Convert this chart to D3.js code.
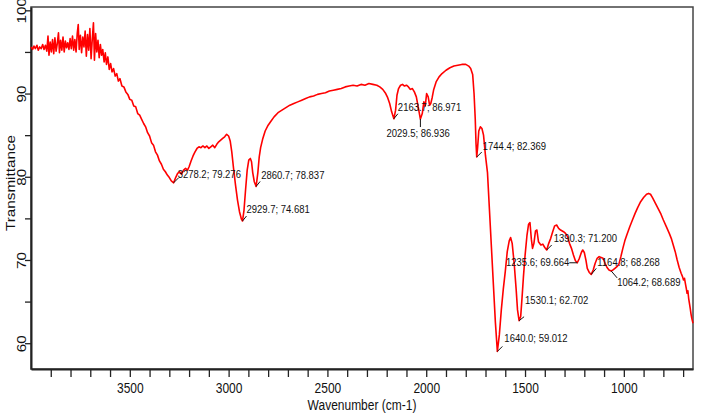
<!DOCTYPE html>
<html>
<head>
<meta charset="utf-8">
<script src="https://cdn.jsdelivr.net/npm/d3@7"></script>
<style>
  body { margin: 0; background: #fff; }
  text { font-family: Arial, "Liberation Sans", sans-serif; }
</style>
</head>
<body>
<div id="ftir-chart"></div>
<script>
// spectrum (cm-1 / %T)
const wavenumber = [
	4000, 3992, 3985, 3978, 3970, 3963, 3956, 3948, 3941, 3934, 3927, 3920, 3914, 3909, 3903, 3897, 3891, 3885, 3879, 3873,
	3867, 3861, 3856, 3850, 3844, 3838, 3832, 3826, 3820, 3814, 3808, 3802, 3796, 3790, 3784, 3778, 3772, 3766, 3761, 3756,
	3750, 3744, 3738, 3732, 3726, 3720, 3714, 3708, 3702, 3696, 3690, 3684, 3679, 3673, 3667, 3661, 3655, 3649, 3643, 3637,
	3630, 3624, 3618, 3611, 3604, 3597, 3590, 3582, 3574, 3566, 3558, 3550, 3540, 3530, 3520, 3510, 3500, 3490, 3480, 3470,
	3460, 3450, 3440, 3430, 3420, 3410, 3400, 3390, 3380, 3370, 3360, 3350, 3340, 3330, 3320, 3310, 3300, 3290, 3278.2, 3268,
	3258, 3248, 3238, 3228, 3218, 3208, 3200, 3190, 3180, 3170, 3160, 3150, 3140, 3130, 3120, 3110, 3100, 3090, 3080, 3070,
	3060, 3050, 3040, 3030, 3020, 3010, 3000, 2992, 2984, 2975, 2965, 2955, 2945, 2935, 2929.7, 2922, 2914, 2906, 2898, 2890,
	2884, 2878, 2870, 2860.7, 2852, 2845, 2838, 2828, 2815, 2800, 2785, 2770, 2750, 2730, 2710, 2690, 2670, 2650, 2630, 2610,
	2590, 2570, 2550, 2530, 2510, 2490, 2470, 2450, 2430, 2410, 2390, 2370, 2350, 2330, 2310, 2290, 2270, 2250, 2235, 2220,
	2205, 2195, 2185, 2175, 2163.7, 2155, 2148, 2140, 2130, 2120, 2110, 2100, 2090, 2080, 2070, 2060, 2050, 2040, 2029.5, 2020,
	2012, 2005, 1998, 1990, 1983, 1977, 1970, 1962, 1950, 1935, 1920, 1900, 1880, 1860, 1840, 1820, 1800, 1785, 1775, 1765,
	1758, 1752, 1748, 1744.4, 1740, 1734, 1726, 1718, 1710, 1700, 1690, 1680, 1670, 1660, 1650, 1640.0, 1630, 1620, 1610, 1600,
	1590, 1580, 1573, 1565, 1555, 1545, 1538, 1530.1, 1522, 1515, 1508, 1500, 1490, 1482, 1475, 1468, 1462, 1455, 1447, 1440,
	1432, 1420, 1410, 1400, 1390.3, 1380, 1370, 1360, 1350, 1340, 1330, 1320, 1305, 1295, 1285, 1275, 1265, 1255, 1245, 1235.6,
	1225, 1215, 1208, 1200, 1192, 1185, 1175, 1164.8, 1155, 1145, 1135, 1125, 1115, 1105, 1095, 1085, 1075, 1064.2, 1055, 1045,
	1035, 1025, 1015, 1005, 995, 985, 970, 955, 943, 930, 915, 900, 885, 875, 865, 855, 840, 825, 812, 800,
	785, 770, 760, 750, 740, 730, 720, 710, 703, 698, 693, 688, 684, 680, 676, 672, 668, 664, 660, 656,
	652, 650
];
const transmittance = [
	95.6, 95.3, 95.7, 95.4, 95.8, 95.2, 95.6, 95.4, 95.9, 95.3, 95.8, 95.1, 96.9, 94.6, 96.2, 95.0, 96.5, 94.8, 96.7, 95.1,
	96.0, 97.3, 94.9, 96.4, 95.2, 96.8, 95.0, 96.3, 95.5, 96.1, 95.3, 96.6, 95.4, 96.9, 95.2, 96.5, 95.0, 97.2, 98.3, 95.3,
	97.0, 94.9, 96.8, 95.6, 97.5, 94.5, 97.1, 95.2, 97.8, 94.2, 96.5, 98.5, 94.0, 97.2, 95.0, 96.4, 94.3, 95.9, 94.6, 95.3,
	93.8, 94.9, 93.5, 94.4, 92.9, 93.6, 92.6, 93.0, 92.1, 92.4, 91.5, 91.8, 90.9, 90.8, 90.2, 89.9, 89.3, 89.2, 88.5, 88.4,
	87.6, 87.4, 86.9, 86.4, 86.0, 85.3, 84.9, 84.1, 83.8, 83.0, 82.6, 81.9, 81.5, 80.9, 80.6, 80.2, 79.9, 79.5, 79.276, 79.9,
	80.4, 80.6, 80.3, 80.8, 81.0, 80.8, 81.2, 81.9, 82.5, 83.0, 83.4, 83.6, 83.5, 83.7, 83.5, 83.7, 83.4, 83.6, 83.8, 83.5,
	83.9, 84.2, 84.4, 84.6, 84.8, 85.1, 84.9, 84.3, 83.0, 81.0, 79.0, 77.2, 75.8, 74.9, 74.681, 76.0, 78.5, 80.8, 82.0, 82.2,
	81.8, 80.5, 79.4, 78.837, 80.5, 82.4, 83.5, 84.5, 85.5, 86.2, 86.7, 87.2, 87.7, 88.0, 88.3, 88.6, 88.8, 89.0, 89.2, 89.4,
	89.6, 89.7, 89.9, 90.0, 90.1, 90.3, 90.4, 90.5, 90.6, 90.8, 90.9, 91.0, 90.9, 91.1, 91.0, 91.2, 91.1, 91.0, 90.8, 90.5,
	90.0, 89.5, 88.8, 87.8, 86.971, 88.0, 89.8, 90.6, 91.0, 91.1, 90.9, 91.0, 90.8, 90.5, 90.6, 90.2, 89.6, 88.3, 86.936, 87.6,
	89.0, 88.5, 90.0, 89.6, 88.6, 88.8, 89.5, 90.5, 91.4, 92.0, 92.4, 92.8, 93.1, 93.3, 93.4, 93.5, 93.5, 93.3, 93.0, 92.3,
	90.0, 87.0, 84.0, 82.369, 83.5, 85.5, 86.0, 85.8, 85.0, 82.5, 80.5, 76.0, 71.5, 67.0, 62.5, 59.012, 61.0, 64.0, 66.5, 68.6,
	71.0, 72.3, 72.7, 72.0, 69.6, 66.5, 64.0, 62.702, 63.2, 65.5, 68.0, 70.5, 73.0, 74.3, 74.5, 72.5, 71.4, 72.0, 73.5, 73.6,
	72.2, 71.8, 71.9, 71.5, 71.200, 72.0, 72.6, 73.4, 74.1, 74.2, 73.8, 73.6, 73.4, 73.2, 72.8, 72.0, 71.4, 70.6, 69.9, 69.664,
	70.2, 70.9, 71.2, 70.9, 70.0, 69.0, 68.5, 68.268, 68.8, 69.6, 70.2, 70.4, 70.3, 70.2, 69.6, 69.1, 68.8, 68.689, 68.8, 69.0,
	69.2, 69.5, 70.4, 71.4, 72.3, 73.0, 74.0, 74.9, 75.6, 76.3, 77.0, 77.5, 77.9, 78.0, 77.9, 77.5, 76.8, 76.1, 75.5, 74.8,
	74.0, 73.2, 72.6, 71.8, 71.0, 70.0, 69.1, 68.4, 68.0, 67.6, 67.8, 67.1, 66.6, 66.0, 66.3, 65.4, 64.8, 64.2, 63.5, 63.0,
	62.6, 62.4
];

// labelled peaks
const peakWn = [3278.2, 2929.7, 2860.7, 2163.7, 2029.5, 1744.4, 1640.0, 1530.1, 1390.3, 1235.6, 1164.8, 1064.2];
const peakT = [79.276, 74.681, 78.837, 86.971, 86.936, 82.369, 59.012, 62.702, 71.200, 69.664, 68.268, 68.689];

// tick labels
const xLabelTicks = [3500, 3000, 2500, 2000, 1500, 1000];
const yLabelTicks = [60, 70, 80, 90, 100];

// label placement next to each peak: [text dx, text dy, leader dx, leader dy, anchor]
const labelLayout = [
	[4, -9, 5, -5, "start"], [4, -12, 4, -5, "start"], [5, -12, 4, -5, "start"], [4, -12, 4, -5, "start"],
	[-34, 14, 0, 8, "start"], [6, -11, 5, -5, "start"], [7, -14, 5, -5, "start"], [6, -21, 5, -4, "start"],
	[7, -12, 5, -5, "start"], [-8, -1, -8, 0, "end"], [6, -13, 5, -6, "start"], [6, 11, 6, 7, "start"]
];

const width = 701, height = 415;
const margin = {top: 7, right: 8, bottom: 46, left: 31};
const stretch = 1.22; // text in the source looks a bit tall

const svg = d3.select("#ftir-chart")
	.append("svg")
		.attr("width", width)
		.attr("height", height);

const x = d3.scaleLinear()
	.domain([4000, 650])
	.range([margin.left, width - margin.right]);

const y = d3.scaleLinear()
	.domain([56.9, 100.4])
	.range([height - margin.bottom, margin.top]);

// plot frame
svg.append("rect")
	.attr("x", margin.left)
	.attr("y", margin.top)
	.attr("width", width - margin.left - margin.right)
	.attr("height", height - margin.top - margin.bottom)
	.attr("fill", "none")
	.attr("stroke", "#444")
	.attr("stroke-width", 1.5);

// x axis
const xAxis = svg.append("g")
	.attr("transform", `translate(0,${height - margin.bottom})`)
	.call(d3.axisBottom(x)
		.tickValues(d3.range(3900, 699, -100))
		.tickSize(8)
		.tickSizeOuter(0)
		.tickFormat(d => xLabelTicks.includes(d) ? d : ""));
xAxis.select(".domain").attr("stroke", "#222").attr("stroke-width", 2);
xAxis.selectAll(".tick line").attr("stroke", "#222").attr("stroke-width", 1.3);
xAxis.selectAll(".tick text")
	.attr("y", null).attr("dy", null)
	.attr("transform", `translate(0,23.5) scale(1,${stretch})`)
	.attr("font-size", 12)
	.attr("fill", "#111");

// y axis
const yAxis = svg.append("g")
	.attr("transform", `translate(${margin.left},0)`)
	.call(d3.axisLeft(y)
		.tickValues(d3.range(60, 101, 5))
		.tickSize(6)
		.tickSizeOuter(0)
		.tickFormat(d => yLabelTicks.includes(d) ? d : ""));
yAxis.select(".domain").attr("stroke", "#222").attr("stroke-width", 2);
yAxis.selectAll(".tick line").attr("stroke", "#222").attr("stroke-width", 1.3);
yAxis.selectAll(".tick text")
	.attr("x", null).attr("dy", null)
	.attr("text-anchor", "middle")
	.attr("transform", `translate(-5.5,0) scale(1,${stretch}) rotate(-90)`)
	.attr("font-size", 12.5)
	.attr("fill", "#111");

// axis titles
svg.append("text")
	.attr("transform", `translate(${(margin.left + width - margin.right) / 2},409.5) scale(1,${stretch})`)
	.attr("text-anchor", "middle")
	.attr("font-size", 12)
	.attr("fill", "#111")
	.text("Wavenumber (cm-1)");

svg.append("text")
	.attr("transform", `translate(14.5,183) scale(1,${stretch}) rotate(-90)`)
	.attr("text-anchor", "middle")
	.attr("font-size", 12.5)
	.attr("fill", "#111")
	.text("Transmittance");

// spectrum
svg.append("path")
	.datum(d3.zip(wavenumber, transmittance))
	.attr("fill", "none")
	.attr("stroke", "#ff0000")
	.attr("stroke-width", 1.6)
	.attr("stroke-linejoin", "round")
	.attr("d", d3.line()
		.x(d => x(d[0]))
		.y(d => y(d[1]))
	);

// peak labels
const peaks = svg.append("g")
	.selectAll("g")
	.data(peakWn.map((w, i) => ({w: w, t: peakT[i], lay: labelLayout[i]})))
	.join("g")
		.attr("transform", d => `translate(${x(d.w)},${y(d.t)})`);

peaks.append("line")
	.attr("x1", 0).attr("y1", 0)
	.attr("x2", d => d.lay[2]).attr("y2", d => d.lay[3])
	.attr("stroke", "#111")
	.attr("stroke-width", 1);

peaks.append("text")
	.attr("transform", d => `translate(${d.lay[0]},${d.lay[1] + 4.3}) scale(1,${stretch})`)
	.attr("text-anchor", d => d.lay[4])
	.attr("font-size", 9.5)
	.attr("fill", "#111")
	.text(d => `${d.w.toFixed(1)}; ${d.t.toFixed(3)}`);
</script>
</body>
</html>
